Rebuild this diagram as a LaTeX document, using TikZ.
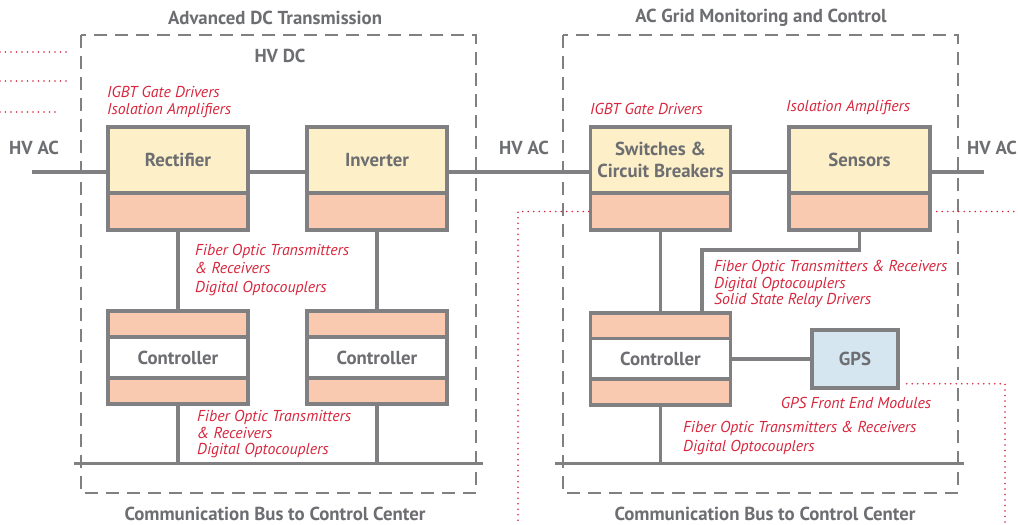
\documentclass[tikz,border=0pt]{standalone}
\usepackage{fontspec}
\setmainfont{PT Sans}
\usetikzlibrary{positioning}
\definecolor{linegray}{HTML}{808083}
\definecolor{txtgray}{HTML}{6D6E71}
\definecolor{hired}{HTML}{D7263D}
\definecolor{cream}{HTML}{FDEFC8}
\definecolor{salmon}{HTML}{F9C9B0}
\definecolor{gpsblue}{HTML}{D6E6F1}
\tikzset{
  blk/.style={draw=linegray, line width=3.5pt, minimum width=140pt, inner sep=0pt,
    text=txtgray, font=\fontsize{18.8}{22}\selectfont\bfseries, align=center},
  dev/.style={blk, fill=cream, minimum height=66pt},
  port/.style={blk, fill=salmon, minimum height=37pt},
  cport/.style={blk, fill=salmon, minimum height=26pt},
  ctrl/.style={blk, fill=white, minimum height=41pt},
  wire/.style={draw=linegray, line width=3.5pt},
  bus/.style={draw=linegray, line width=3pt},
  zone/.style={draw=linegray, line width=1.8pt, dash pattern=on 13pt off 8pt},
  title/.style={text=txtgray, font=\fontsize{18.8}{22}\selectfont\bfseries},
  note/.style={text=hired, font=\fontsize{15.8}{17}\selectfont\itshape, align=left, inner sep=0pt},
  fiber/.style={draw=hired, line width=1.6pt, dash pattern=on 0pt off 5.5pt, line cap=round}
}
\begin{document}
\begin{tikzpicture}[x=1pt,y=-1pt]
\useasboundingbox (0,0) rectangle (1018,525);
% zones
\draw[zone] (81,35) rectangle (476,493);
\draw[zone] (563,35) rectangle (958,493);
\node[title] (dctitle) at (275,18) {Advanced DC Transmission};
\node[title] (actitle) at (761,18) {AC Grid Monitoring and Control};
\node[title] (hvdc) at (280,56) {HV DC};
\node[title] (dcbus) at (275,514) {Communication Bus to Control Center};
\node[title] (acbus) at (765,514) {Communication Bus to Control Center};
% HV line
\coordinate (hvL) at (32,172);
\coordinate (hvR) at (984,172);
\draw[wire] (hvL) -- (hvR);
\node[title] (hvac1) at (34,148) {HV AC};
\node[title] (hvac2) at (524,148) {HV AC};
\node[title, anchor=east, inner xsep=1pt] (hvac3) at (1018,148) {HV AC};
% dotted lines on the left
\foreach \y/\l in {52/67,81/67,112/60}
    \draw[fiber] (0,\y) -- (\l,\y);
% DC side
\node[dev] (rect) at (178,160) {Rectifier};
\node[port] (rectp) at (178,211.5) {};
\node[dev] (inv) at (377,160) {Inverter};
\node[port] (invp) at (377,211.5) {};
\node[cport] (c1t) at (178,324) {};
\node[ctrl] (c1) at (178,357.5) {Controller};
\node[cport] (c1b) at (178,391) {};
\node[cport] (c2t) at (377,324) {};
\node[ctrl] (c2) at (377,357.5) {Controller};
\node[cport] (c2b) at (377,391) {};
\coordinate (busL1) at (74,463);
\coordinate (busR1) at (483,463);
\draw[bus] (busL1) -- (busR1);
\draw[wire] (rectp) -- (c1t);
\draw[wire] (invp) -- (c2t);
\draw[wire] (c1b.south) -- (c1b.south |- busL1);
\draw[wire] (c2b.south) -- (c2b.south |- busL1);
\node[note, anchor=west] (n1) at (107,102) {IGBT Gate Drivers\\Isolation Amplifiers};
\node[note, anchor=west, font=\fontsize{15.8}{18.5}\selectfont\itshape] (n2) at (195,270)
    {Fiber Optic Transmitters\\\& Receivers\\Digital Optocouplers};
\node[note, anchor=west, font=\fontsize{15.8}{16.5}\selectfont\itshape] (n3) at (197,434.5)
    {Fiber Optic Transmitters\\\& Receivers\\Digital Optocouplers};
% AC side
\node[dev] (sw) at (660.5,160) {Switches \&\\Circuit Breakers};
\node[port] (swp) at (660.5,211.5) {};
\node[dev, minimum width=141pt] (sens) at (859.5,160) {Sensors};
\node[port, minimum width=141pt] (sensp) at (859.5,211.5) {};
\node[cport] (c3t) at (660.5,326) {};
\node[ctrl] (c3) at (660.5,359) {Controller};
\node[cport] (c3b) at (660.5,392) {};
\node[blk, fill=gpsblue, minimum width=86pt, minimum height=58pt] (gps) at (855,359) {GPS};
\coordinate (busL2) at (555,463);
\coordinate (busR2) at (964,463);
\draw[bus] (busL2) -- (busR2);
\draw[wire] (swp) -- (c3t);
\coordinate (bend) at (702,250);
\draw[wire] (sensp.south) |- (bend) -- (bend |- c3t.north);
\draw[wire] (c3) -- (gps);
\draw[wire] (c3b.south) -- (c3b.south |- busL2);
\node[note, anchor=west] (n4) at (590,109) {IGBT Gate Drivers};
\node[note, anchor=west] (n5) at (786,108) {Isolation Amplifiers};
\node[note, anchor=west, font=\fontsize{15.8}{16.5}\selectfont\itshape] (n6) at (714,284)
    {Fiber Optic Transmitters \& Receivers\\Digital Optocouplers\\Solid State Relay Drivers};
\node[note] (n7) at (856,403) {GPS Front End Modules};
\node[note, anchor=west, font=\fontsize{15.8}{19}\selectfont\itshape] (n8) at (683,438)
    {Fiber Optic Transmitters \& Receivers\\Digital Optocouplers};
% dotted links
\coordinate (d1) at (518,525);
\draw[fiber] (swp.west) -| (d1);
\draw[fiber] ([xshift=5pt]sensp.east) -- ++(90,0);
\coordinate (d2) at (1005,525);
\draw[fiber] ([xshift=7pt,yshift=6pt]gps.south east) -| (d2);
\end{tikzpicture}
\end{document}
